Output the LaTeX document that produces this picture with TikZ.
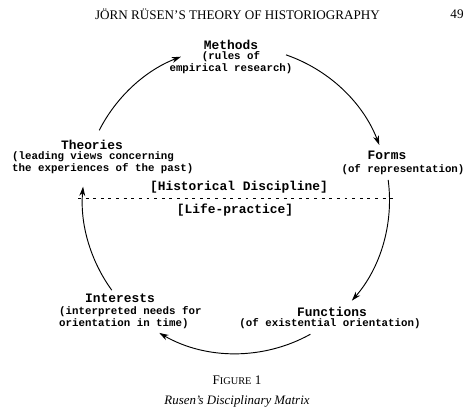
\documentclass[tikz,border=0pt]{standalone}
\usepackage{fontspec}
\setmainfont{Liberation Serif}
\setmonofont{Liberation Mono}
\usetikzlibrary{arrows.meta, positioning}
\tikzset{
  % Matrix element heading and its explanation
  mattitle/.style={font=\ttfamily\bfseries\fontsize{11}{12}\selectfont, inner sep=0pt},
  matdesc/.style={font=\ttfamily\bfseries\fontsize{9.2}{10.2}\selectfont, inner sep=0pt, align=#1},
  matdesc/.default=center,
  cyclearrow/.style={-{Stealth[length=8pt, width=5pt]}, line width=0.8pt},
  borderline/.style={line width=0.8pt, dash pattern=on 2.5pt off 4pt},
  pagetext/.style={font=\fontsize{11.2}{12}\selectfont, inner sep=0pt}
}
\newcommand{\rad}{153.5}

\begin{document}
\begin{tikzpicture}[x=0.03cm, y=0.03cm]
  \useasboundingbox (0,0) rectangle (474,415);

  % Running head
  \node[pagetext] (head) at (237.5,401) {J\"ORN R\"USEN'S THEORY OF HISTORIOGRAPHY};
  \node[pagetext] (page) at (457,401) {49};

  % Centre of the cycle
  \coordinate (ctr) at (236,215);

  % The five elements
  \node[mattitle] (methods) at (231,370) {Methods};
  \node[matdesc] (methodsd) at (231,352) {(rules of\\empirical research)};

  \node[mattitle] (forms) at (387,260) {Forms};
  \node[matdesc] (formsd) at (403,245) {(of representation)};

  \node[mattitle] (functions) at (332,103) {Functions};
  \node[matdesc] (functionsd) at (330,91) {(of existential orientation)};

  \node[mattitle] (interests) at (120,117) {Interests};
  \node[matdesc=left, anchor=west] (interestsd) at (59,97.5) {(interpreted needs for\\orientation in time)};

  \node[mattitle] (theories) at (92,270) {Theories};
  \node[matdesc=left, anchor=west] (theoriesd) at (12,252) {(leading views concerning\\the experiences of the past)};

  % Border between discipline and life
  \node[mattitle] (discipline) at (239,228) {[Historical Discipline]};
  \node[mattitle] (life) at (235,205) {[Life-practice]};
  \coordinate (bordl) at (78,216.5);
  \coordinate (bordr) at (395,216.5);
  \draw[borderline] (bordl) -- (bordr);

  % The cycle
  \draw[cyclearrow] ([shift={(153:\rad)}]ctr) arc[start angle=153, end angle=111, radius=\rad];
  \draw[cyclearrow] ([shift={(71:\rad)}]ctr) arc[start angle=71, end angle=21, radius=\rad];
  \draw[cyclearrow] ([shift={(7.5:\rad)}]ctr) arc[start angle=7.5, end angle=-41, radius=\rad];
  \draw[cyclearrow] ([shift={(-61:\rad)}]ctr) arc[start angle=-61, end angle=-120, radius=\rad];
  \draw[cyclearrow] ([shift={(216:\rad)}]ctr) arc[start angle=216, end angle=175, radius=\rad];

  % Caption
  \node[pagetext] (fignum) at (237,35) {F{\fontsize{8.8}{10}\selectfont IGURE} 1};
  \node[pagetext, font=\itshape\fontsize{11}{12}\selectfont] (caption) at (237,14) {Rusen's Disciplinary Matrix};
\end{tikzpicture}
\end{document}
